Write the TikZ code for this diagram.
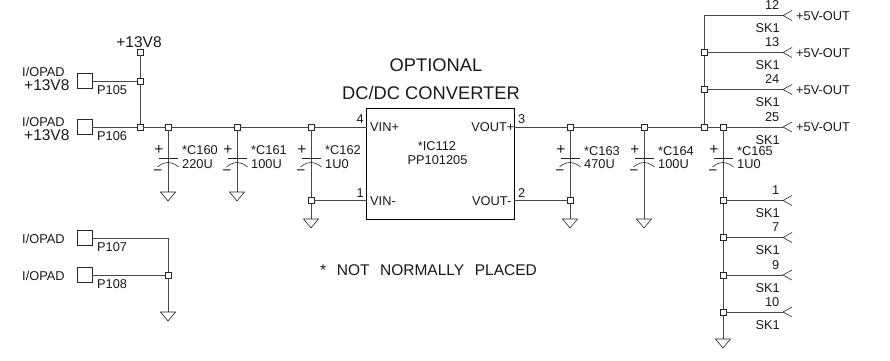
\documentclass[tikz,border=0pt]{standalone}
\usepackage{fontspec}
\setmainfont{Liberation Sans}
\newcommand{\gndsym}[1]{\draw[sym] (#1) ++(-7.5,0) -- ++(15,0) -- ++(-7.5,9) -- cycle;}
\newcommand{\capsym}[1]{%
  \draw[sym] (#1) ++(-9.5,0) -- ++(19,0);
  \draw[sym] (#1) ++(-10.5,9) parabola bend +(10.5,-4.5) +(21,0);}
\newcommand{\chev}[1]{\draw[sym] (#1) ++(9,-5) -- ++(-9,5) -- ++(9,5);}
\tikzset{
  wire/.style={draw=black!72,line width=0.75pt},
  sym/.style={draw=black!85,line width=0.6pt},
  jn/.style={draw=black!85,line width=0.6pt,rectangle,minimum size=6pt,inner sep=0pt},
  pad/.style={draw=black!85,line width=0.7pt,rectangle,minimum size=15pt,inner sep=0pt},
  ic/.style={draw=black,line width=0.8pt,rectangle,inner sep=0pt,minimum width=147.5pt,minimum height=111pt},
  txt/.style={inner sep=0pt,text=black!90,font=\fontsize{12.8}{14}\selectfont},
  big/.style={inner sep=0pt,text=black!90,font=\fontsize{15.5}{17}\selectfont},
  huge/.style={inner sep=0pt,text=black!90,font=\fontsize{18.3}{20}\selectfont},
}
\begin{document}
\begin{tikzpicture}[x=1pt,y=-1pt]
\useasboundingbox (0,0) rectangle (890,360);
% pads
\node[pad] (p105) at (84.5,81) {};
\node[pad] (p106) at (84.5,127) {};
\node[pad] (p107) at (84.5,238) {};
\node[pad] (p108) at (84.5,275) {};
% IC
\node[ic] (ic) at (440.2,163.5) {};
\coordinate (vinp) at (366.5,127);
\coordinate (vinm) at (366.5,200.5);
\coordinate (voutp) at (514,127);
\coordinate (voutm) at (514,200.5);
% junctions
\node[jn] (top) at (140,52) {};
\node[jn] (j105) at (140,81) {};
\node[jn] (j106) at (140,127) {};
\node[jn] (j160) at (168,127) {};
\node[jn] (j161) at (237,127) {};
\node[jn] (j162) at (311,127) {};
\node[jn] (j162b) at (311,200.5) {};
\node[jn] (j163) at (570,127) {};
\node[jn] (j163b) at (570,200.5) {};
\node[jn] (j164) at (644,127) {};
\node[jn] (jv) at (704,127) {};
\node[jn] (j165) at (723,127) {};
\node[jn] (jr13) at (704,52.5) {};
\node[jn] (jr24) at (704,89.5) {};
\node[jn] (jb1) at (723,200.5) {};
\node[jn] (jb7) at (723,237.5) {};
\node[jn] (jb9) at (723,275) {};
\node[jn] (jb10) at (723,312) {};
\node[jn] (j108) at (168,275) {};
\coordinate (c107) at (168,238);
\coordinate (c12) at (704,15.5);
% connector ends
\coordinate (e12) at (783,15.5);
\coordinate (e13) at (783,52.5);
\coordinate (e24) at (783,89.5);
\coordinate (e25) at (783,127);
\coordinate (e1) at (783,200.5);
\coordinate (e7) at (783,237.5);
\coordinate (e9) at (783,275);
\coordinate (e10) at (783,312);
% grounds
\coordinate (g160) at (168,192);
\coordinate (g161) at (237,192);
\coordinate (g162) at (311,219);
\coordinate (g163) at (570,219);
\coordinate (g164) at (644,219);
\coordinate (g165) at (723,339);
\coordinate (g108) at (168,312);
% caps
\coordinate (c160) at (168,158);
\coordinate (c161) at (237,158);
\coordinate (c162) at (311,158);
\coordinate (c163) at (570,158);
\coordinate (c164) at (644,158);
\coordinate (c165) at (723,158);
% wires
\draw[wire] (top) -- (j105);
\draw[wire] (j105) -- (j106);
\draw[wire] (p105.east) -- (j105);
\draw[wire] (p106.east) -- (j106);
\draw[wire] (j106) -- (j160);
\draw[wire] (j160) -- (j161);
\draw[wire] (j161) -- (j162);
\draw[wire] (j162) -- (vinp);
\draw[wire] (voutp) -- (j163);
\draw[wire] (j163) -- (j164);
\draw[wire] (j164) -- (jv);
\draw[wire] (jv) -- (j165);
\draw[wire] (j165) -- (e25);
\draw[wire] (j160) -- (g160);
\draw[wire] (j161) -- (g161);
\draw[wire] (j162) -- (j162b);
\draw[wire] (j162b) -- (g162);
\draw[wire] (j162b) -- (vinm);
\draw[wire] (j163) -- (j163b);
\draw[wire] (j163b) -- (g163);
\draw[wire] (voutm) -- (j163b);
\draw[wire] (j164) -- (g164);
\draw[wire] (c12) -- (jr13);
\draw[wire] (jr13) -- (jr24);
\draw[wire] (jr24) -- (jv);
\draw[wire] (c12) -- (e12);
\draw[wire] (jr13) -- (e13);
\draw[wire] (jr24) -- (e24);
\draw[wire] (j165) -- (jb1);
\draw[wire] (jb1) -- (jb7);
\draw[wire] (jb7) -- (jb9);
\draw[wire] (jb9) -- (jb10);
\draw[wire] (jb10) -- (g165);
\draw[wire] (jb1) -- (e1);
\draw[wire] (jb7) -- (e7);
\draw[wire] (jb9) -- (e9);
\draw[wire] (jb10) -- (e10);
\draw[wire] (p107.east) -- (c107);
\draw[wire] (c107) -- (j108);
\draw[wire] (p108.east) -- (j108);
\draw[wire] (j108) -- (g108);
% symbols
\gndsym{g160}\gndsym{g161}\gndsym{g162}\gndsym{g163}\gndsym{g164}\gndsym{g165}\gndsym{g108}
\capsym{c160}\capsym{c161}\capsym{c162}\capsym{c163}\capsym{c164}\capsym{c165}
\chev{e12}\chev{e13}\chev{e24}\chev{e25}\chev{e1}\chev{e7}\chev{e9}\chev{e10}
% left labels
\node[big,anchor=base] (lt) at (139,47) {+13V8};
\node[txt,anchor=base west] (l1) at (22,76) {I/OPAD};
\node[big,anchor=base west] (l2) at (24,90) {+13V8};
\node[txt,anchor=base west] (l3) at (22,126.5) {I/OPAD};
\node[big,anchor=base west] (l4) at (24,140.5) {+13V8};
\node[txt,anchor=base west] (l5) at (22,243) {I/OPAD};
\node[txt,anchor=base west] (l6) at (22,280) {I/OPAD};
\node[txt,anchor=base west] (n105) at (97,94) {P105};
\node[txt,anchor=base west] (n106) at (97,140) {P106};
\node[txt,anchor=base west] (n107) at (97,251) {P107};
\node[txt,anchor=base west] (n108) at (97,288) {P108};
% cap labels
\node[txt,anchor=base west] (v160) at (182,154.5) {*C160};
\node[txt,anchor=base west] (w160) at (182,168.5) {220U};
\node[txt,anchor=base west] (v161) at (251,154.5) {*C161};
\node[txt,anchor=base west] (w161) at (251,168.5) {100U};
\node[txt,anchor=base west] (v162) at (325,154.5) {*C162};
\node[txt,anchor=base west] (w162) at (325,168.5) {1U0};
\node[txt,anchor=base west] (v163) at (584,155) {*C163};
\node[txt,anchor=base west] (w163) at (584,168.5) {470U};
\node[txt,anchor=base west] (v164) at (658,155) {*C164};
\node[txt,anchor=base west] (w164) at (658,168.5) {100U};
\node[txt,anchor=base west] (v165) at (737,155) {*C165};
\node[txt,anchor=base west] (w165) at (737,168.5) {1U0};
% plus and minus
\foreach \n/\x in {a/159,b/228,c/302,d/561,e/635,f/714}{
  \node[big,anchor=center] (plus\n) at (\x,150) {+};
}
\foreach \n/\x in {a/158,b/227,c/301,d/560,e/634,f/713}{
  \node[big,anchor=center] (minus\n) at (\x,173) {−};
}
% IC text
\node[huge,anchor=base] (t1) at (436,71) {OPTIONAL};
\node[huge,anchor=base] (t2) at (431,99) {DC/DC CONVERTER};
\node[txt,anchor=base] (t3) at (437,150) {*IC112};
\node[txt,anchor=base] (t4) at (437.5,164) {PP101205};
\node[txt,anchor=base west] (t5) at (370,131) {VIN+};
\node[txt,anchor=base west] (t6) at (370,205.5) {VIN-};
\node[txt,anchor=base east] (t7) at (514.5,131) {VOUT+};
\node[txt,anchor=base east] (t8) at (511.5,205.5) {VOUT-};
\node[txt,anchor=base east] (pn4) at (364,123) {4};
\node[txt,anchor=base east] (pn1) at (364,197) {1};
\node[txt,anchor=base west] (pn3) at (518,123) {3};
\node[txt,anchor=base west] (pn2) at (518,197) {2};
\node[big,anchor=base west] (note) at (320,275.5) {*\hspace{10.6pt}NOT\hspace{10.6pt}NORMALLY\hspace{10.6pt}PLACED};
% SK labels
\foreach \nm/\y/\num in {a/15.5/12,b/52.5/13,c/89.5/24,d/127/25,e/200.5/1,f/237.5/7,g/275/9,h/312/10}{
  \node[txt,anchor=base east] (num\nm) at (779.5,\y-6) {\num};
  \node[txt,anchor=base east] (sk\nm) at (780,\y+17) {SK1};
}
\foreach \nm/\y in {a/15.5,b/52.5,c/89.5,d/127}{
  \node[txt,anchor=base west] (out\nm) at (796,\y+4.5) {+5V-OUT};
}
\end{tikzpicture}
\end{document}
